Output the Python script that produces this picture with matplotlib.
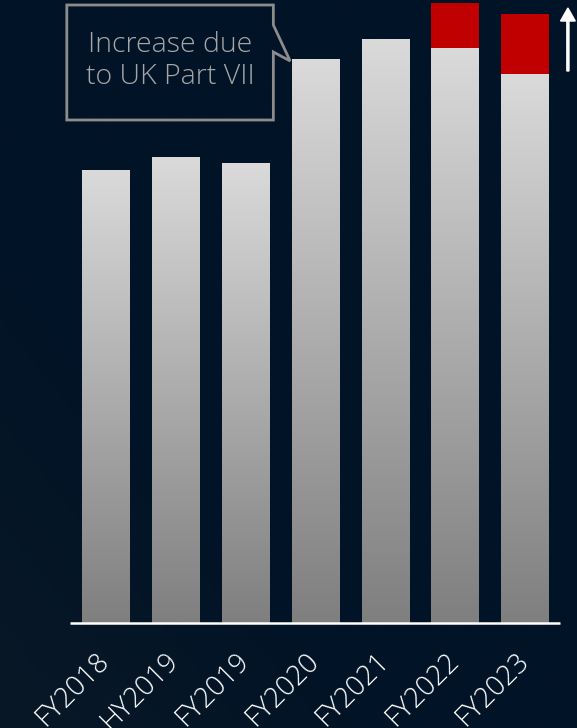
import numpy as np
import matplotlib
matplotlib.use("Agg")
import matplotlib.pyplot as plt
from matplotlib.patches import Polygon, FancyArrow

# values (pixel heights above the baseline, no axis shown)
periods = ["FY2018", "HY2019", "FY2019", "FY2020", "FY2021", "FY2022", "FY2023"]
base_values = [453, 466, 460, 564, 584, 575, 549]
part_vii_values = [0, 0, 0, 0, 0, 45, 60]
callout_text = "Increase due\nto UK Part VII"

BG = "#011326"
RED = "#c00000"
FONT = ["Open Sans", "DejaVu Sans"]

fig = plt.figure(figsize=(5.77, 7.28), dpi=100, facecolor=BG)

# faint lighter diagonal at the lower left of the slide
bg_ax = fig.add_axes([0, 0, 1, 1], zorder=0)
bg_ax.set_axis_off()
yy, xx = np.mgrid[0:1:300j, 0:1:300j]
shade = np.clip(1.0 - (xx + yy) / 0.7, 0, 1)
rgb = np.zeros((300, 300, 3))
c0 = np.array([1, 19, 38]) / 255
c1 = np.array([9, 24, 38]) / 255
for k in range(3):
    rgb[..., k] = c0[k] + (c1[k] - c0[k]) * shade
bg_ax.imshow(rgb, extent=[0, 1, 0, 1], origin="lower", aspect="auto")

ax = fig.add_axes([0, 105 / 728, 1, 623 / 728], zorder=1)
ax.patch.set_alpha(0)
x = np.arange(len(periods))
width = 0.68

grad = np.linspace(0, 1, 256).reshape(-1, 1)
cmap = matplotlib.colors.LinearSegmentedColormap.from_list("bar", ["#7f7f7f", "#dadada"])
bars = ax.bar(x, base_values, width=width, color="none", edgecolor="none")
for bar, val in zip(bars, base_values):
    x0 = bar.get_x()
    im = ax.imshow(grad, extent=[x0, x0 + width, 0, val], origin="lower",
                   aspect="auto", cmap=cmap, vmin=0, vmax=1, zorder=2)
    im.set_clip_path(bar)
ax.bar(x, part_vii_values, width=width, bottom=base_values, color=RED, zorder=3)
ax.set_xlim(-1.507, 6.74)
ax.set_ylim(0, 623)

# baseline
ax.plot([-0.507, 6.5], [0, 0], color="white", lw=1.8, zorder=4, clip_on=False,
        solid_capstyle="butt")

for xi, lab in zip(x, periods):
    ax.text(xi - 0.15, -24, lab, rotation=45, rotation_mode="anchor",
            ha="right", va="top", color="white", fontsize=20, family=FONT,
            fontweight=300)

for s in ax.spines.values():
    s.set_visible(False)
ax.set_xticks([])
ax.set_yticks([])

# callout box with pointer towards FY2020
callout = Polygon([(-0.552, 618), (2.40, 618), (2.40, 598), (2.64, 562),
                   (2.40, 571), (2.40, 503), (-0.552, 503)],
                  closed=True, facecolor="none", edgecolor="#8c8c8c", lw=2,
                  zorder=5, clip_on=False)
ax.add_patch(callout)
ax.text(0.93, 562, callout_text, ha="center", va="center", color="#a6a6a6",
        fontsize=20.5, family=FONT, fontweight=300, linespacing=1.15, zorder=6)

# upward arrow at the top right
ax.add_patch(FancyArrow(6.61, 552, 0, 63, width=0.03, head_width=0.21,
                        head_length=13, length_includes_head=True,
                        color="white", zorder=6, clip_on=False))

fig.savefig("out.png", dpi=100, facecolor=BG)
